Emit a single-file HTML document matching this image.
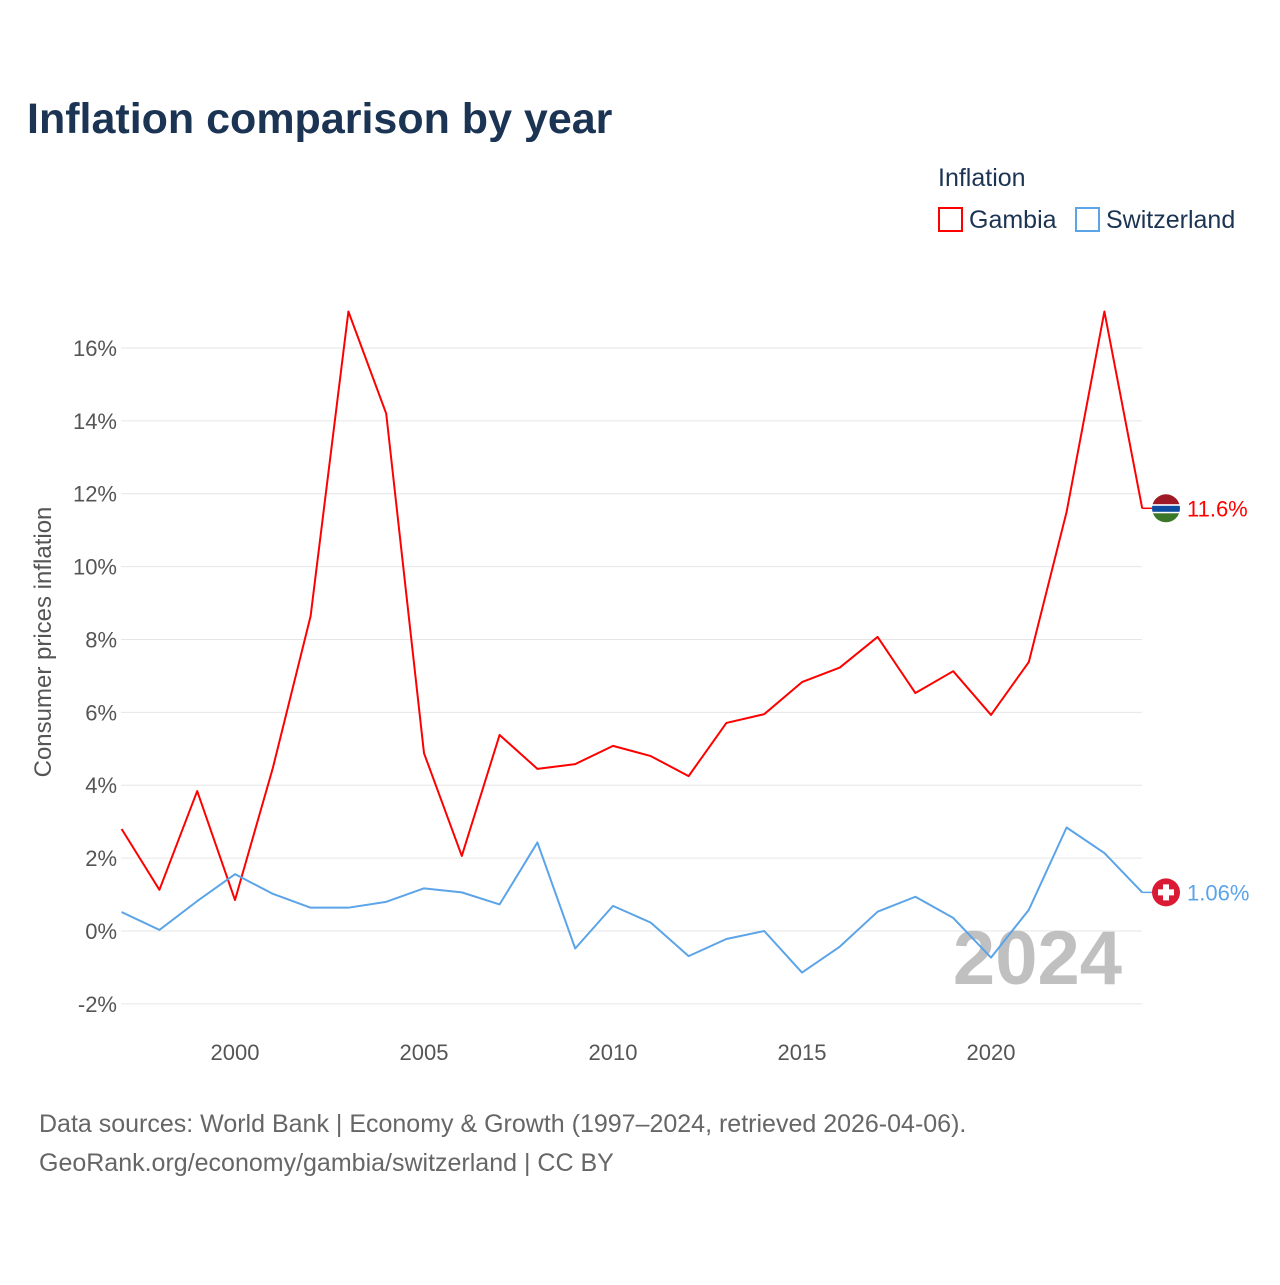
<!DOCTYPE html>
<html><head><meta charset="utf-8">
<style>
body{margin:0;background:#fff;font-family:"Liberation Sans",sans-serif;}
svg text{font-family:"Liberation Sans",sans-serif;}
</style></head>
<body>
<svg id="chart" width="1280" height="1280" xmlns="http://www.w3.org/2000/svg">
<rect width="1280" height="1280" fill="#fff"/>
<text x="27" y="133" font-size="43" font-weight="bold" fill="#1c3454">Inflation comparison by year</text>
<text x="938" y="186" font-size="25" fill="#1c3454">Inflation</text>
<g>
<rect x="939" y="208" width="23" height="23" fill="none" stroke="#ff0000" stroke-width="2"/>
<text x="969" y="228" font-size="25" fill="#1c3454">Gambia</text></g>
<g>
<rect x="1076" y="208" width="23" height="23" fill="none" stroke="#5ba4e8" stroke-width="2"/>
<text x="1106" y="228" font-size="25" fill="#1c3454">Switzerland</text></g>
<g id="grid"></g>
<g id="yticks"></g>
<g id="xticks"></g>
<text transform="translate(51,642) rotate(-90)" text-anchor="middle" font-size="24" fill="#555">Consumer prices inflation</text>
<text x="1122" y="984" text-anchor="end" font-size="76" font-weight="bold" fill="#c0c0c0">2024</text>
<g id="series"></g>
<text x="39" y="1132" font-size="25" fill="#666">Data sources: World Bank | Economy &amp; Growth (1997–2024, retrieved 2026-04-06).</text>
<text x="39" y="1171" font-size="25" fill="#666">GeoRank.org/economy/gambia/switzerland | CC BY</text>
</svg>
<script>
const years=[1997,1998,1999,2000,2001,2002,2003,2004,2005,2006,2007,2008,2009,2010,2011,2012,2013,2014,2015,2016,2017,2018,2019,2020,2021,2022,2023,2024];
const gambia=[2.8,1.13,3.84,0.85,4.47,8.64,17.0,14.2,4.88,2.06,5.38,4.45,4.58,5.08,4.8,4.25,5.71,5.95,6.83,7.23,8.07,6.53,7.13,5.93,7.38,11.5,17.0,11.6];
const swiss=[0.52,0.03,0.82,1.56,1.02,0.64,0.64,0.8,1.17,1.06,0.73,2.43,-0.48,0.69,0.23,-0.69,-0.22,0.0,-1.14,-0.43,0.53,0.94,0.36,-0.73,0.58,2.84,2.14,1.06];
const yTicks=[-2,0,2,4,6,8,10,12,14,16];
const xTicks=[2000,2005,2010,2015,2020];
const NS="http://www.w3.org/2000/svg";
const x=v=>121.6+(v-1997)*37.8;
const y=v=>931-v*36.44;
function mk(tag,attrs,parent){const e=document.createElementNS(NS,tag);for(const k in attrs)e.setAttribute(k,attrs[k]);parent.appendChild(e);return e;}
const grid=document.getElementById('grid'),yt=document.getElementById('yticks'),xt=document.getElementById('xticks'),ser=document.getElementById('series');
yTicks.forEach(t=>{
 const l=mk('line',{x1:121,x2:1142,y1:y(t),y2:y(t),stroke:'#e6e6e6','stroke-width':1},grid);
 
 
 const tx=mk('text',{x:117,y:y(t)+8,'text-anchor':'end','font-size':22,fill:'#555'},yt);
 tx.textContent=t+'%';
 
 
});
xTicks.forEach(t=>{
 const tx=mk('text',{x:x(t),y:1060,'text-anchor':'middle','font-size':22,fill:'#555'},xt);
 tx.textContent=t;
 
 
});
function line(vals,color,name){
 const p=mk('polyline',{points:vals.map((v,i)=>x(years[i])+','+y(v)).join(' '),fill:'none',stroke:color,'stroke-width':2,'stroke-linejoin':'round'},ser);
 
 
}
line(gambia,'#ff0000','gambia-line');
line(swiss,'#5ba4e8','switzerland-line');
const gl=gambia[gambia.length-1],sl=swiss[swiss.length-1],xe=x(2024);
mk('line',{x1:xe,x2:1153,y1:y(gl),y2:y(gl),stroke:'#ff0000','stroke-width':1.5},ser);
const gf=mk('g',{},ser);


const cy=y(gl);
const cp=mk('clipPath',{id:'gc'},gf);
mk('circle',{cx:1166,cy:cy,r:14},cp);
const gg=mk('g',{'clip-path':'url(#gc)'},gf);
mk('rect',{x:1150,y:cy-15,width:32,height:11,fill:'#9e1b25'},gg);
mk('rect',{x:1150,y:cy-4,width:32,height:9,fill:'#fff'},gg);
mk('rect',{x:1150,y:cy-2.5,width:32,height:6,fill:'#0c4da2'},gg);
mk('rect',{x:1150,y:cy+5,width:32,height:11,fill:'#3a7728'},gg);
const gtx=mk('text',{x:1187,y:y(gl)+8,'font-size':22,fill:'#ff0000'},ser);
gtx.textContent=gl+'%';


mk('line',{x1:xe,x2:1153,y1:y(sl),y2:y(sl),stroke:'#5ba4e8','stroke-width':1.5},ser);
const sf=mk('g',{},ser);


const sy=y(sl);
mk('circle',{cx:1166,cy:sy,r:14,fill:'#da1a35'},sf);
mk('rect',{x:1163,y:sy-8,width:6,height:16,fill:'#fff'},sf);
mk('rect',{x:1158,y:sy-3,width:16,height:6,fill:'#fff'},sf);
const stx=mk('text',{x:1187,y:sy+8,'font-size':22,fill:'#5ba4e8'},ser);
stx.textContent=sl.toFixed(2)+'%';


</script>
</body></html>
